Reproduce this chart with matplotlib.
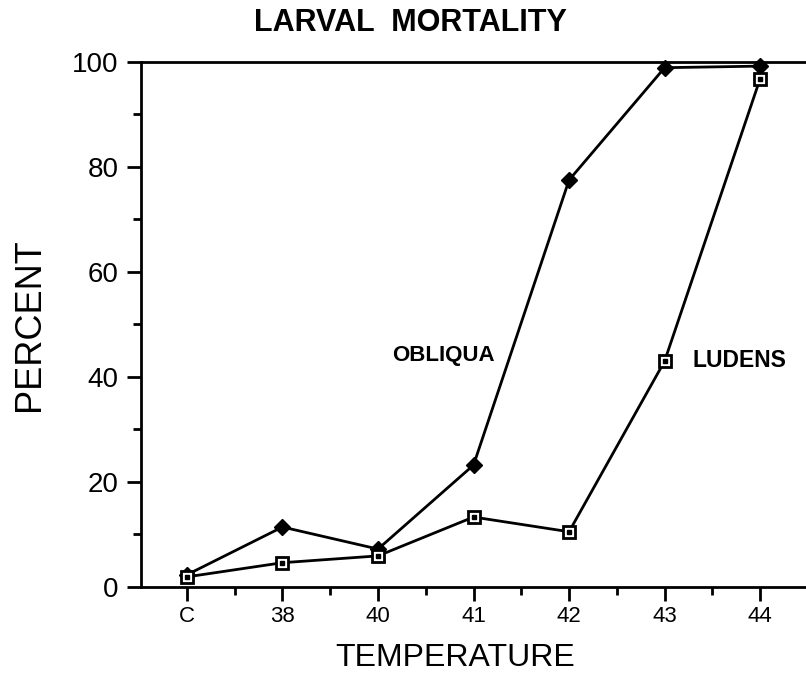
import numpy as np
import matplotlib.pyplot as plt
from matplotlib.ticker import MultipleLocator

plt.rcParams.update({
    'font.family': 'sans-serif',
    'font.sans-serif': ['Liberation Sans', 'DejaVu Sans'],
    'axes.linewidth': 2.0,
})

# 数据
temps = ['C', '38', '40', '41', '42', '43', '44']
obliqua = [2.3, 11.4, 7.2, 23.2, 77.5, 98.9, 99.2]
ludens = [1.9, 4.6, 5.9, 13.3, 10.5, 43.0, 96.8]

fig = plt.figure(figsize=(8.06, 6.73), dpi=100)
ax = fig.add_axes([0.175, 0.128, 0.825, 0.78])

x = np.arange(len(temps))
ax.plot(x, obliqua, color='black', lw=2.0, marker='D', ms=8,
        mfc='black', mec='black', clip_on=False, zorder=3)
ax.plot(x, ludens, color='black', lw=2.0, marker='s', ms=9,
        mfc='white', mec='black', mew=2.0, clip_on=False, zorder=3)
# 空心方块中间的小点
ax.plot(x, ludens, ls='none', marker='s', ms=2.5, mfc='black', mec='black',
        clip_on=False, zorder=4)

ax.set_xlim(-0.48, 6.48)
ax.set_ylim(0, 100)

ax.set_xticks(x)
ax.set_xticklabels(temps)
ax.xaxis.set_minor_locator(MultipleLocator(0.5))
ax.yaxis.set_major_locator(MultipleLocator(20))
ax.yaxis.set_minor_locator(MultipleLocator(10))

ax.tick_params(axis='both', which='major', direction='out', length=10, width=2.0)
ax.tick_params(axis='both', which='minor', direction='out', length=6, width=2.0)
ax.tick_params(axis='y', labelsize=20, pad=6)
ax.tick_params(axis='x', labelsize=16, pad=4)

ax.spines['right'].set_visible(False)
ax.spines['top'].set_linewidth(2.0)

ax.set_xlabel('TEMPERATURE', fontsize=23, va='center')
ax.xaxis.set_label_coords((455 - 141) / 665, -0.135)
ax.set_ylabel('PERCENT', fontsize=26, labelpad=18)

# 标题（位置偏左，不在坐标区中心）
fig.text(410 / 806, 1 - 23 / 673, 'LARVAL  MORTALITY', fontsize=22,
         fontweight='bold', ha='center', va='center')

ax.text(2.15, 44, 'OBLIQUA', fontsize=16, fontweight='bold',
        ha='left', va='center')
ax.text(5.29, 43.2, 'LUDENS', fontsize=16.5, fontweight='bold',
        ha='left', va='center')

plt.savefig('out.png', dpi=100)
